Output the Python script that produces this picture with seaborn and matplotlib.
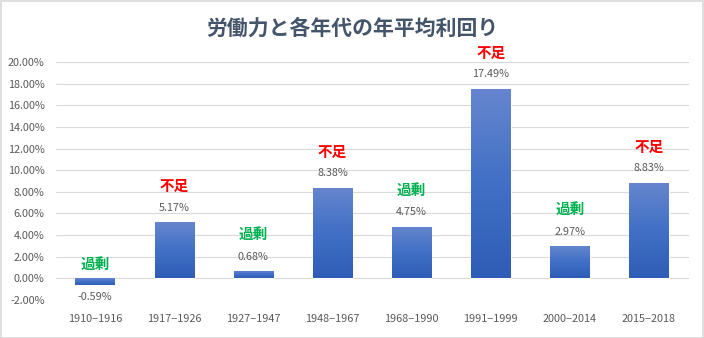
import matplotlib
matplotlib.use("Agg")
import matplotlib.pyplot as plt
import seaborn as sns
import pandas as pd
import numpy as np
from matplotlib.patches import Rectangle
from matplotlib.colors import LinearSegmentedColormap

periods = ["1910−1916", "1917−1926", "1927−1947", "1948−1967",
           "1968−1990", "1991−1999", "2000−2014", "2015−2018"]
returns = [-0.59, 5.17, 0.68, 8.38, 4.75, 17.49, 2.97, 8.83]
status = ["過剰", "不足", "過剰", "不足", "過剰", "不足", "過剰", "不足"]
status_colors = {"過剰": "#00B050", "不足": "#FF0000"}
title = "労働力と各年代の年平均利回り"

sns.set_theme(style="white")
plt.rcParams["font.family"] = ["Noto Sans CJK JP", "DejaVu Sans"]

df = pd.DataFrame({"period": periods, "ret": returns})

fig = plt.figure(figsize=(7.04, 3.38), dpi=100)
ax = fig.add_axes([0.079, 0.112, 0.899, 0.705])

sns.barplot(data=df, x="period", y="ret", color="#4472C4", width=0.5,
            saturation=1, ax=ax, zorder=3)

# vertical gradient fill on each bar
cmap = LinearSegmentedColormap.from_list("g", ["#2F5DB6", "#4170C6", "#6686CE"])
grad = np.linspace(0, 1, 256).reshape(-1, 1)
for p in ax.patches:
    x0, y0 = p.get_x(), p.get_y()
    w, h = p.get_width(), p.get_height()
    ylo, yhi = min(y0, y0 + h), max(y0, y0 + h)
    im = ax.imshow(grad, cmap=cmap, aspect="auto", origin="lower",
                   extent=(x0, x0 + w, ylo, yhi), zorder=4, interpolation="bilinear")
    im.set_clip_path(p)

ax.set_ylim(-2, 20)
ax.set_yticks([v for v in range(-2, 21, 2)])
ax.set_yticklabels([f"{v:.2f}%" for v in range(-2, 21, 2)])
ax.set_xlim(-0.5, len(periods) - 0.5)
ax.grid(axis="y", color="#D9D9D9", linewidth=0.8, zorder=0)
for s in ax.spines.values():
    s.set_visible(False)
ax.set_xlabel("")
ax.set_ylabel("")
ax.tick_params(axis="both", length=0, labelsize=7.8, colors="#595959", pad=8)
ax.tick_params(axis="x", pad=10)

for i, (v, st) in enumerate(zip(returns, status)):
    if v >= 0:
        ax.annotate(f"{v:.2f}%", (i, v), xytext=(0, 10.5), textcoords="offset points",
                    ha="center", va="center", fontsize=7.8, color="#595959")
        ax.annotate(st, (i, v), xytext=(0, 26), textcoords="offset points",
                    ha="center", va="center", fontsize=10.5, fontweight="bold",
                    color=status_colors[st])
    else:
        ax.annotate(f"{v:.2f}%", (i, v), xytext=(0, -9), textcoords="offset points",
                    ha="center", va="center", fontsize=7.8, color="#595959")
        ax.annotate(st, (i, 0), xytext=(0, 10), textcoords="offset points",
                    ha="center", va="center", fontsize=10.5, fontweight="bold",
                    color=status_colors[st])

fig.text(0.5, 0.917, title, ha="center", va="center", fontsize=15,
         fontweight="bold", color="#44546A")

fig.patches.append(Rectangle((0.001, 0.001), 0.997, 0.996, transform=fig.transFigure,
                             fill=False, edgecolor="#D9D9D9", linewidth=1.2))

fig.savefig("out.png", dpi=100)
